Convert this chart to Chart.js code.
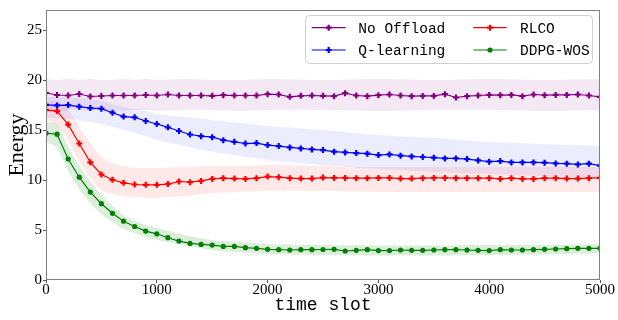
<!DOCTYPE html>
<html>
<head>
<meta charset="utf-8">
<script src="https://cdn.jsdelivr.net/npm/chart.js@4.4.1/dist/chart.umd.min.js"></script>
<style>
  html, body { margin: 0; padding: 0; background: #fff; }
  #wrap { width: 618px; height: 320px; position: relative; }
</style>
</head>
<body>
<div id="wrap"><canvas id="c" width="618" height="320"></canvas></div>
<script>
// ---- data ----
const slots = [0,100,200,300,400,500,600,700,800,900,1000,1100,1200,1300,1400,1500,1600,1700,1800,1900,2000,
  2100,2200,2300,2400,2500,2600,2700,2800,2900,3000,3100,3200,3300,3400,3500,3600,3700,3800,3900,4000,
  4100,4200,4300,4400,4500,4600,4700,4800,4900,5000];

const noOffload = [18.70,18.50,18.45,18.60,18.35,18.40,18.45,18.45,18.45,18.50,18.45,18.55,18.45,
  18.45,18.45,18.42,18.48,18.45,18.45,18.45,18.58,18.55,18.32,18.42,18.45,18.42,
  18.38,18.68,18.45,18.38,18.48,18.55,18.45,18.38,18.41,18.41,18.58,18.25,
  18.38,18.45,18.51,18.48,18.51,18.38,18.55,18.48,18.51,18.51,18.55,18.45,18.32];

const qLearning = [17.52,17.46,17.49,17.33,17.19,17.13,16.73,16.34,16.27,15.90,15.60,15.27,14.90,
  14.55,14.38,14.28,13.98,13.82,13.65,13.69,13.49,13.39,13.26,13.16,13.06,12.99,
  12.83,12.76,12.69,12.63,12.49,12.56,12.43,12.36,12.30,12.23,12.16,12.16,
  12.09,11.96,11.83,11.89,11.76,11.76,11.76,11.73,11.66,11.63,11.56,11.63,11.43];

const rlco = [16.99,16.89,15.54,13.65,11.77,10.55,10.02,9.72,9.55,9.52,9.52,9.59,9.85,
  9.78,9.91,10.11,10.18,10.14,10.11,10.18,10.34,10.28,10.18,10.14,10.14,10.24,
  10.21,10.21,10.18,10.18,10.21,10.21,10.14,10.14,10.18,10.21,10.21,10.18,
  10.18,10.18,10.18,10.11,10.18,10.11,10.11,10.18,10.18,10.14,10.14,10.18,10.21];

const ddpgWos = [14.68,14.58,12.10,10.28,8.79,7.63,6.67,5.88,5.35,4.89,4.62,4.23,3.89,
  3.66,3.56,3.49,3.36,3.36,3.23,3.17,3.07,3.03,3.00,3.03,3.03,3.05,
  3.07,2.90,2.97,3.03,2.94,2.94,3.00,2.97,2.97,3.00,3.03,3.03,
  3.00,2.97,2.94,3.03,3.00,3.00,3.03,3.07,3.10,3.13,3.17,3.17,3.17];

// spread of the raw (unsmoothed) samples behind each curve
const bandX = [0,100,200,300,400,500,600,700,800,900,1000,1250,1500,1750,2000,2500,3000,3500,4000,4500,5000];
const noOffloadHi = [20.1,20.0,20.1,20.0,20.1,20.0,20.0,20.1,20.0,20.1,20.0,20.1,20.0,20.0,20.1,20.0,20.1,20.0,20.1,20.0,20.1];
const noOffloadLo = [17.0,16.9,17.0,17.0,16.9,17.0,17.0,16.9,17.0,17.0,16.9,17.0,17.0,16.9,17.0,17.0,16.9,17.0,17.0,16.9,17.0];
const qLearningHi = [18.3,18.3,18.3,18.2,18.1,17.9,17.6,17.3,17.1,16.9,16.6,16.3,16.0,15.7,15.4,15.0,14.5,14.2,13.8,13.6,13.4];
const qLearningLo = [16.2,16.2,16.1,16.0,15.8,15.6,15.3,15.0,14.7,14.4,14.0,13.4,12.8,12.4,12.0,11.5,11.1,10.8,10.6,10.4,10.2];
const rlcoHi = [17.8,17.8,17.0,15.3,13.7,12.3,11.7,11.4,11.2,11.2,11.2,11.3,11.4,11.4,11.5,11.4,11.3,11.3,11.3,11.3,11.3];
const rlcoLo = [16.0,15.5,14.0,11.8,10.2,9.0,8.6,8.4,8.3,8.2,8.2,8.4,8.7,8.8,8.9,8.9,8.8,8.8,8.8,8.8,8.8];
const ddpgWosHi = [15.8,15.6,13.3,11.5,9.9,8.5,7.4,6.5,5.9,5.5,5.2,4.5,4.0,3.8,3.6,3.5,3.45,3.45,3.5,3.5,3.6];
const ddpgWosLo = [13.8,13.2,10.9,9.1,7.7,6.6,5.8,5.1,4.7,4.3,4.0,3.5,3.0,2.8,2.6,2.5,2.45,2.45,2.5,2.55,2.7];

const yTicks = [0,5,10,15,20,25];
const xTicks = [0,1000,2000,3000,4000,5000];

// ---- build ----
const pts = (xs, ys) => xs.map((x, i) => ({x, y: ys[i]}));

const series = [
  {label: 'No Offload', data: noOffload, hi: noOffloadHi, lo: noOffloadLo, color: '#800080', band: 'rgba(128,0,128,0.09)', style: 'cross'},
  {label: 'RLCO', data: rlco, hi: rlcoHi, lo: rlcoLo, color: '#ff0000', band: 'rgba(255,0,0,0.09)', style: 'cross'},
  {label: 'Q-learning', data: qLearning, hi: qLearningHi, lo: qLearningLo, color: '#0000ff', band: 'rgba(0,0,255,0.075)', style: 'cross'},
  {label: 'DDPG-WOS', data: ddpgWos, hi: ddpgWosHi, lo: ddpgWosLo, color: '#008000', band: 'rgba(0,128,0,0.14)', style: 'circle'}
];

const datasets = [];
series.forEach(s => {
  datasets.push({
    label: s.label, data: pts(slots, s.data), borderColor: s.color, backgroundColor: s.color,
    borderWidth: 1.2, pointStyle: s.style, pointRadius: s.style === 'circle' ? 2.6 : 3,
    pointBorderWidth: s.style === 'circle' ? 0 : 2.2, pointBackgroundColor: s.color, pointBorderColor: s.color,
    tension: 0, fill: false, order: 0
  });
});
series.forEach(s => {
  const idx = datasets.length;
  datasets.push({label: s.label + ' hi', data: pts(bandX, s.hi), borderWidth: 0, pointRadius: 0,
    backgroundColor: s.band, fill: idx + 1, tension: 0.3, order: 10});
  datasets.push({label: s.label + ' lo', data: pts(bandX, s.lo), borderWidth: 0, pointRadius: 0,
    fill: false, tension: 0.3, order: 10});
});

const framePlugin = {
  id: 'frame',
  afterDatasetsDraw(chart) {
    const {ctx, chartArea: a} = chart;
    ctx.save();
    ctx.strokeStyle = '#808080';
    ctx.lineWidth = 1;
    ctx.strokeRect(a.left + 0.5, a.top + 0.5, a.right - a.left - 1, a.bottom - a.top - 1);
    ctx.restore();
  }
};

const legendPlugin = {
  id: 'boxLegend',
  afterDraw(chart) {
    const ctx = chart.ctx;
    ctx.save();
    const bx = 305.5, by = 15.5, bw = 287, bh = 48, r = 4;
    ctx.beginPath();
    ctx.moveTo(bx + r, by);
    ctx.lineTo(bx + bw - r, by); ctx.arcTo(bx + bw, by, bx + bw, by + r, r);
    ctx.lineTo(bx + bw, by + bh - r); ctx.arcTo(bx + bw, by + bh, bx + bw - r, by + bh, r);
    ctx.lineTo(bx + r, by + bh); ctx.arcTo(bx, by + bh, bx, by + bh - r, r);
    ctx.lineTo(bx, by + r); ctx.arcTo(bx, by, bx + r, by, r);
    ctx.closePath();
    ctx.fillStyle = 'rgba(255,255,255,0.8)';
    ctx.fill();
    ctx.strokeStyle = '#d0d0d0';
    ctx.lineWidth = 1;
    ctx.stroke();
    const cells = [
      {s: series[0], x0: 311.7, x1: 345.7, tx: 358.3, y: 27.7},
      {s: series[2], x0: 311.7, x1: 345.7, tx: 358.3, y: 50},
      {s: series[1], x0: 473.3, x1: 506.7, tx: 520, y: 27.7},
      {s: series[3], x0: 473.3, x1: 506.7, tx: 520, y: 50}
    ];
    ctx.font = '14.5px "Liberation Mono", monospace';
    ctx.textBaseline = 'middle';
    cells.forEach(c => {
      ctx.strokeStyle = c.s.color; ctx.lineWidth = 1.2;
      ctx.beginPath(); ctx.moveTo(c.x0, c.y); ctx.lineTo(c.x1, c.y); ctx.stroke();
      const mx = (c.x0 + c.x1) / 2;
      if (c.s.style === 'circle') {
        ctx.fillStyle = c.s.color;
        ctx.beginPath(); ctx.arc(mx, c.y, 2.6, 0, Math.PI * 2); ctx.fill();
      } else {
        ctx.lineWidth = 2.2;
        ctx.beginPath(); ctx.moveTo(mx - 3, c.y); ctx.lineTo(mx + 3, c.y);
        ctx.moveTo(mx, c.y - 3); ctx.lineTo(mx, c.y + 3); ctx.stroke();
      }
      ctx.fillStyle = '#000';
      ctx.fillText(c.s.label, c.tx, c.y + 1);
    });
    ctx.restore();
  }
};

new Chart(document.getElementById('c'), {
  type: 'line',
  data: {datasets},
  options: {
    responsive: false, animation: false, devicePixelRatio: 1,
    layout: {padding: {top: 7, right: 18, left: 0, bottom: 0}},
    plugins: {legend: {display: false}, tooltip: {enabled: false}},
    scales: {
      x: {
        type: 'linear', min: 0, max: 5000,
        afterFit(s) { s.height = 40; },
        afterBuildTicks(s) { s.ticks = xTicks.map(v => ({value: v})); },
        grid: {display: true, drawOnChartArea: false, drawTicks: true, tickLength: 3, color: '#555'},
        border: {display: false},
        ticks: {color: '#000', padding: -2, maxRotation: 0, callback: v => String(v),
          font: {family: '"Liberation Serif", serif', size: 15}},
        title: {display: true, text: 'time slot', color: '#000', padding: {top: 0, bottom: 4},
          font: {family: '"Liberation Mono", monospace', size: 18}}
      },
      y: {
        type: 'linear', min: 0, max: 27,
        afterFit(s) { s.width = 46; },
        afterBuildTicks(s) { s.ticks = yTicks.map(v => ({value: v})); },
        grid: {display: true, drawOnChartArea: false, drawTicks: true, tickLength: 3, color: '#555'},
        border: {display: false},
        ticks: {color: '#000', padding: 1, callback: v => String(v),
          font: {family: '"Liberation Serif", serif', size: 15}},
        title: {display: true, text: 'Energy', color: '#000', padding: {top: 4, bottom: 0},
          font: {family: '"Liberation Serif", serif', size: 22}}
      }
    }
  },
  plugins: [framePlugin, legendPlugin]
});
</script>
</body>
</html>
